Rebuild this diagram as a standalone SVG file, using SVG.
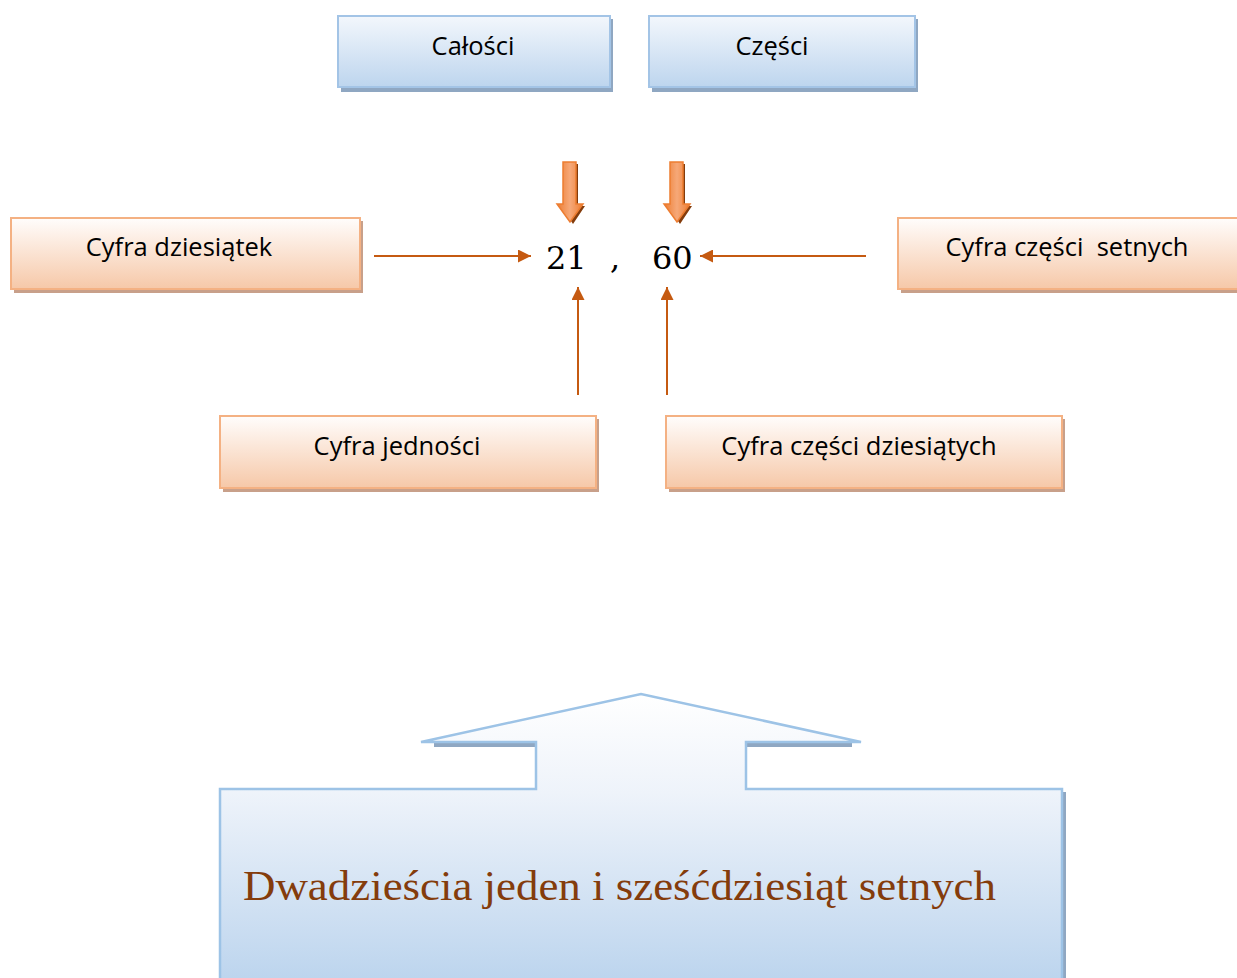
<svg xmlns="http://www.w3.org/2000/svg" width="1237" height="978" viewBox="0 0 1237 978">
<defs>
<linearGradient id="gBlue" x1="0" y1="0" x2="0" y2="1"><stop offset="0" stop-color="#f3f7fc"/><stop offset="1" stop-color="#bdd5ee"/></linearGradient>
<linearGradient id="gOr" x1="0" y1="0" x2="0" y2="1"><stop offset="0" stop-color="#fffdfc"/><stop offset="1" stop-color="#f6c8a8"/></linearGradient>
<linearGradient id="gBig" gradientUnits="userSpaceOnUse" x1="0" y1="694" x2="0" y2="978"><stop offset="0" stop-color="#ffffff"/><stop offset="0.35" stop-color="#eef3fa"/><stop offset="1" stop-color="#bdd5ee"/></linearGradient>
<linearGradient id="gArr" x1="0" y1="0" x2="1" y2="0"><stop offset="0" stop-color="#ed7d31"/><stop offset="0.5" stop-color="#f6a878"/><stop offset="1" stop-color="#ed7d31"/></linearGradient>
<marker id="ah" viewBox="0 0 10 10" refX="10" refY="5" markerWidth="15" markerHeight="13" markerUnits="userSpaceOnUse" orient="auto"><path d="M0,0 L10,5 L0,10 Z" fill="#c55a11"/></marker>
</defs>
<style>
.bshadow{fill:#8fa7c2}
.oshadow{fill:#c8a08a}
.blue{fill:url(#gBlue);stroke:#a3c4e6;stroke-width:2}
.or{fill:url(#gOr);stroke:#f4b183;stroke-width:2}
.lbl{font-family:"Open Sans","Noto Sans",sans-serif;font-size:25.5px;fill:#000;text-anchor:middle}
.num{font-family:"DejaVu Serif","Liberation Serif",serif;font-size:32px;fill:#000}
.conn{stroke:#c55a11;stroke-width:2;fill:none;marker-end:url(#ah)}
.big{font-family:"Liberation Serif","DejaVu Serif",serif;font-size:42px;fill:#843c0c}
</style>
<g id="calosci">
<rect class="bshadow" x="341" y="19" width="272" height="73"/>
<rect class="blue" x="338" y="16" width="272" height="71"/>
<text class="lbl" x="473" y="55">Całości</text>
</g>
<g id="czesci">
<rect class="bshadow" x="652" y="19" width="266" height="73"/>
<rect class="blue" x="649" y="16" width="266" height="71"/>
<text class="lbl" x="772" y="55">Części</text>
</g>
<g id="dziesiatek">
<rect class="oshadow" x="14" y="221" width="349" height="72"/>
<rect class="or" x="11" y="218" width="349" height="71"/>
<text class="lbl" x="179" y="256">Cyfra dziesiątek</text>
</g>
<g id="setnych">
<rect class="oshadow" x="901" y="221" width="345" height="72"/>
<rect class="or" x="898" y="218" width="345" height="71"/>
<text class="lbl" x="1067" y="256" xml:space="preserve">Cyfra części  setnych</text>
</g>
<g id="jednosci">
<rect class="oshadow" x="223" y="419" width="376" height="73"/>
<rect class="or" x="220" y="416" width="376" height="72"/>
<text class="lbl" x="397" y="455">Cyfra jedności</text>
</g>
<g id="dziesiatych">
<rect class="oshadow" x="669" y="419" width="396" height="73"/>
<rect class="or" x="666" y="416" width="396" height="72"/>
<text class="lbl" x="859" y="455">Cyfra części dziesiątych</text>
</g>
<g id="liczba">
<text class="num" x="546" y="269">21</text>
<text class="num" x="610" y="269">,</text>
<text class="num" x="652" y="269">60</text>
</g>
<g id="strzalki-w-dol">
<path d="M566,164 H578 V206 H585 L573,224 L561,206 H566 Z" fill="#843c0c"/>
<path d="M563,162 H576 V204 H583 L570,222 L557,204 H563 Z" fill="url(#gArr)" stroke="#ed7d31" stroke-width="1.5"/>
<path d="M673,164 H685 V206 H692 L680,224 L668,206 H673 Z" fill="#843c0c"/>
<path d="M670,162 H683 V204 H690 L677,222 L664,204 H670 Z" fill="url(#gArr)" stroke="#ed7d31" stroke-width="1.5"/>
</g>
<g id="connectors">
<line class="conn" x1="374" y1="256" x2="531" y2="256"/>
<line class="conn" x1="866" y1="256" x2="700" y2="256"/>
<line class="conn" x1="578" y1="395" x2="578" y2="287"/>
<line class="conn" x1="667" y1="395" x2="667" y2="287"/>
</g>
<g id="opis">
<path d="M434,745 H536 M746,745 H852" stroke="#8fa7c2" stroke-width="4" fill="none"/>
<rect x="1062" y="792" width="4" height="186" fill="#8fa7c2"/>
<path d="M220,978 V789 H536 V742 H421 L641,694 L861,742 H746 V789 H1062 V978" fill="url(#gBig)" stroke="#9dc3e6" stroke-width="2.5"/>
<text class="big" x="243" y="900" textLength="753" lengthAdjust="spacingAndGlyphs">Dwadzieścia jeden i sześćdziesiąt setnych</text>
</g>
</svg>
